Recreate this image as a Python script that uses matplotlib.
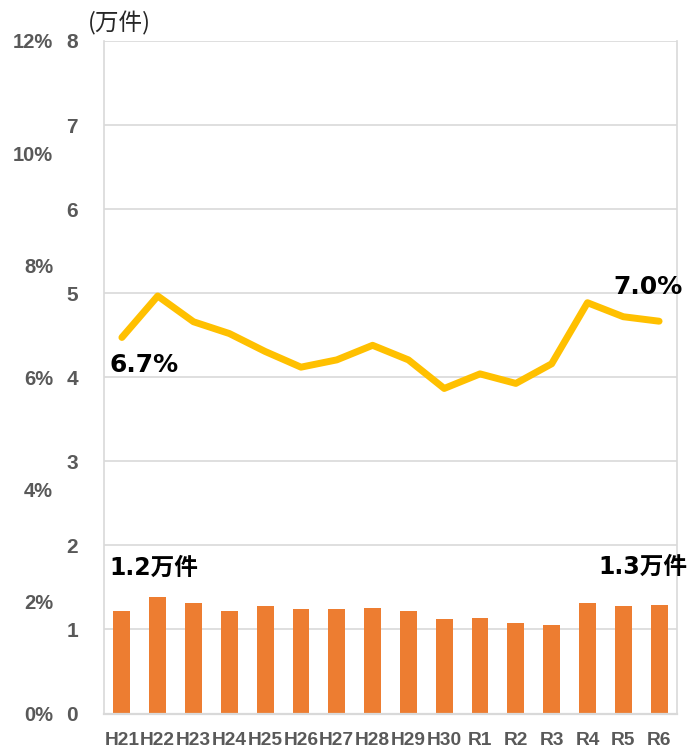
import matplotlib
matplotlib.use('Agg')
import matplotlib.pyplot as plt

years = ['H21', 'H22', 'H23', 'H24', 'H25', 'H26', 'H27', 'H28', 'H29', 'H30',
         'R1', 'R2', 'R3', 'R4', 'R5', 'R6']
cases = [1.22, 1.39, 1.32, 1.22, 1.28, 1.24, 1.24, 1.25, 1.22, 1.13,
         1.14, 1.08, 1.05, 1.32, 1.28, 1.29]          # 万件
rate = [6.71, 7.45, 6.99, 6.78, 6.46, 6.18, 6.31, 6.57, 6.31, 5.80,
        6.06, 5.89, 6.24, 7.33, 7.08, 7.00]           # %
case_ticks = [0, 1, 2, 3, 4, 5, 6, 7, 8]
rate_ticks = [0, 2, 4, 6, 8, 10, 12]

GRAY = '#595959'
GRID = '#d9d9d9'
LAB_FONT = ['DejaVu Sans', 'Noto Sans CJK JP']

fig = plt.figure(figsize=(6.88, 7.49), dpi=100)
L, R, T, B = 104, 677, 41, 713.5
ax = fig.add_axes([L / 688, 1 - B / 749, (R - L) / 688, (B - T) / 749])

xs = list(range(len(years)))
ax.bar(xs, cases, width=0.47, color='#ED7D31', zorder=2)
ax.set_xlim(-0.5, len(years) - 0.5)
ax.set_ylim(0, 8)
ax.set_yticks(case_ticks)
ax.set_xticks(xs)
ax.set_xticklabels(years)
ax.yaxis.grid(True, color=GRID, lw=1.2)
ax.set_axisbelow(True)
ax.tick_params(axis='y', length=0, pad=18.7, labelcolor=GRAY)
ax.tick_params(axis='x', length=0, pad=13.5, labelcolor=GRAY)
for lab in ax.get_yticklabels():
    lab.set_fontfamily('Liberation Sans')
    lab.set_fontweight('bold')
    lab.set_fontsize(15)
for lab in ax.get_xticklabels():
    lab.set_fontfamily('Liberation Sans')
    lab.set_fontweight('bold')
    lab.set_fontsize(13.8)
ax.spines['top'].set_visible(False)
for s in ['left', 'right']:
    ax.spines[s].set_color(GRID)
    ax.spines[s].set_linewidth(1.2)
ax.spines['bottom'].set_color(GRID)
ax.spines['bottom'].set_linewidth(1.6)

ax2 = ax.twinx()
ax2.plot(xs, rate, color='#FFC000', lw=5, solid_capstyle='round',
         solid_joinstyle='round', zorder=3)
ax2.set_ylim(0, 12)
ax2.set_yticks(rate_ticks)
ax2.set_yticklabels([f'{t}%' for t in rate_ticks])
ax2.yaxis.set_ticks_position('left')
ax2.tick_params(axis='y', length=0, pad=36.7, labelcolor=GRAY)
for lab in ax2.get_yticklabels():
    lab.set_fontfamily('Liberation Sans')
    lab.set_fontweight('bold')
    lab.set_fontsize(14.5)
for s in ax2.spines.values():
    s.set_visible(False)

# data labels
ax2.annotate(f'{rate[0]:.1f}%', xy=(xs[0], rate[0]), xytext=(-12, -28),
             textcoords='offset pixels', ha='left', va='center',
             fontsize=18, fontweight='bold', family=LAB_FONT, color='black',
             annotation_clip=False)
ax2.annotate(f'{rate[-1]:.1f}%', xy=(xs[-1], rate[-1]), xytext=(-46, 34),
             textcoords='offset pixels', ha='left', va='center',
             fontsize=18, fontweight='bold', family=LAB_FONT, color='black',
             annotation_clip=False)
ax.annotate(f'{cases[0]:.1f}万件', xy=(xs[0], cases[0]), xytext=(-13, 43),
            textcoords='offset pixels', ha='left', va='center',
            fontsize=17, fontweight='bold', family=LAB_FONT, color='black',
            annotation_clip=False)
ax.annotate(f'{cases[-1]:.1f}万件', xy=(xs[-1], cases[-1]), xytext=(-61, 38),
            textcoords='offset pixels', ha='left', va='center',
            fontsize=17, fontweight='bold', family=LAB_FONT, color='black',
            annotation_clip=False)

fig.text(88 / 688, 1 - 23 / 749, '(万件)', ha='left', va='center',
         fontsize=17, family=['Noto Sans CJK JP', 'DejaVu Sans'], color='#262626')

fig.savefig('out.png', dpi=100)
